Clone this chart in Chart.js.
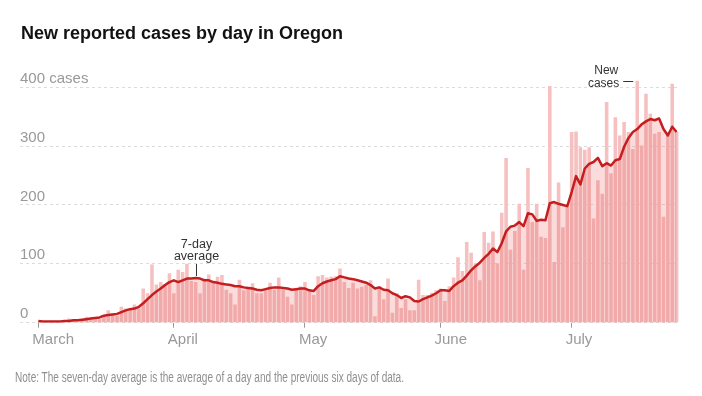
<!DOCTYPE html>
<html>
<head>
<meta charset="utf-8">
<script src="https://cdn.jsdelivr.net/npm/chart.js@4.4.1/dist/chart.umd.min.js"></script>
<style>
  html, body { margin: 0; padding: 0; background: #fff; }
  #wrap  { position: relative; width: 702px; height: 396px; overflow: hidden; }
  #chart { position: absolute; left: 0; top: 0; }
  h1 {
    position: absolute; left: 21px; top: 24px; margin: 0;
    font: bold 18px/18px 'Liberation Sans', Arial, sans-serif; color: #121212;
  }
  #note {
    position: absolute; left: 15px; top: 370px; margin: 0; white-space: nowrap; display: inline-block;
    font: 14px/14px 'Liberation Sans', Arial, sans-serif; color: #8f8f8f;
    transform-origin: 0 0;
  }
</style>
</head>
<body>
<div id="wrap">
  <canvas id="chart" width="702" height="396"></canvas>
  <h1>New reported cases by day in Oregon</h1>
  <span id="note">Note: The seven-day average is the average of a day and the previous six days of data.</span>
</div>
<script>
// day 0 = March 1
const monthTicks  = [0, 31, 61, 92, 122];
const monthLabels = ['March', 'April', 'May', 'June', 'July'];
const yTicks      = [0, 100, 200, 300, 400];
const yTickLabels = ['0', '100', '200', '300', '400 cases'];

// new reported cases per day, Mar 1 .. Jul 25
const newCases = [
  1, 1, 1, 1, 2, 1, 3, 7, 3, 2,
  5, 10, 6, 6, 6, 10, 21, 15, 12, 27,
  24, 24, 31, 24, 58, 50, 99, 65, 69, 65,
  84, 50, 90, 86, 100, 71, 69, 50, 75, 82,
  68, 78, 81, 56, 50, 31, 73, 55, 58, 67,
  50, 50, 55, 68, 56, 77, 56, 44, 31, 59,
  62, 69, 55, 47, 79, 81, 77, 78, 79, 92,
  69, 59, 68, 58, 61, 64, 72, 11, 62, 40,
  75, 17, 50, 25, 40, 21, 21, 73, 47, 47,
  51, 55, 58, 37, 62, 77, 111, 88, 137, 119,
  101, 72, 154, 136, 155, 101, 187, 280, 124, 156,
  202, 90, 263, 171, 202, 146, 144, 402, 103, 238,
  162, 197, 324, 325, 298, 294, 298, 177, 242, 219,
  375, 254, 349, 318, 341, 324, 295, 411, 301, 389,
  355, 321, 324, 180, 324, 406, 324
];

// 7-day average
const avg7 = [
  3, 2, 2, 2, 2, 2, 3, 3, 4, 4,
  5, 6, 7, 8, 9, 12, 13, 14, 15, 18,
  21, 23, 24, 27, 33, 40, 47, 53, 58, 64,
  69, 72, 69, 72, 75, 75, 76, 75, 72, 72,
  69, 68, 66, 65, 64, 62, 62, 60, 59, 58,
  56, 55, 57, 59, 60, 60, 59, 58, 56, 57,
  58, 58, 55, 54, 62, 67, 70, 72, 74, 79,
  77, 75, 74, 72, 70, 68, 64, 58, 60, 56,
  55, 50, 47, 42, 45, 43, 37, 36, 40, 43,
  46, 50, 55, 55, 54, 62, 68, 72, 80, 89,
  96, 102, 110, 117, 126, 120, 135, 155, 163, 165,
  171, 164, 186, 184, 173, 175, 174, 203, 205, 202,
  200, 198, 222, 249, 235, 262, 270, 273, 280, 266,
  271, 267, 276, 278, 299, 314, 324, 329, 337, 342,
  346, 344, 347, 329, 318, 333, 324
];

const avgLabelDay  = 36;   // "7-day average" pointer
const newLabelDay  = 137;  // "New cases" pointer

const barData  = newCases.map((v, i) => ({ x: i, y: v }));
const lineData = avg7.map((v, i) => ({ x: i, y: v }));

// text annotations on the plot
const annotations = {
  id: 'annotations',
  afterDatasetsDraw(chart) {
    const { ctx, scales: { x, y } } = chart;
    ctx.save();
    ctx.fillStyle   = '#333';
    ctx.strokeStyle = '#333';
    ctx.lineWidth   = 1;
    ctx.font = '12.5px "Liberation Sans", Arial, sans-serif';
    ctx.textBaseline = 'middle';

    // 7-day average
    const ax = Math.round(x.getPixelForValue(avgLabelDay)) + 0.5;
    const ay = y.getPixelForValue(avg7[avgLabelDay]);
    ctx.textAlign = 'center';
    ctx.fillText('7-day', ax, ay - 33);
    ctx.fillText('average', ax, ay - 21);
    ctx.beginPath();
    ctx.moveTo(ax, ay - 14);
    ctx.lineTo(ax, ay - 2);
    ctx.stroke();

    // New cases
    ctx.font = '12px "Liberation Sans", Arial, sans-serif';
    const nx = x.getPixelForValue(newLabelDay);
    const ny = Math.round(y.getPixelForValue(newCases[newLabelDay])) + 0.5;
    ctx.textAlign = 'right';
    ctx.fillText('New', nx - 19, ny - 11);
    ctx.fillText('cases', nx - 18, ny + 2);
    ctx.beginPath();
    ctx.moveTo(nx - 14, ny);
    ctx.lineTo(nx - 4, ny);
    ctx.stroke();
    ctx.restore();
  }
};

new Chart(document.getElementById('chart'), {
  type: 'bar',
  data: {
    datasets: [
      {
        type: 'line',
        data: lineData,
        borderColor: '#c41e1e',
        borderWidth: 2.5,
        borderJoinStyle: 'round',
        pointRadius: 0,
        tension: 0,
        fill: 'origin',
        backgroundColor: 'rgba(230, 80, 80, 0.2)',
        order: 0
      },
      {
        type: 'bar',
        data: barData,
        backgroundColor: '#f6c0c0',
        barPercentage: 0.82,
        categoryPercentage: 1,
        order: 1
      }
    ]
  },
  options: {
    responsive: false,
    animation: false,
    layout: { padding: { left: 20, right: 22, top: 75.5, bottom: 0 } },
    plugins: { legend: { display: false }, tooltip: { enabled: false } },
    scales: {
      x: {
        type: 'linear',
        min: -4.19,
        max: 146.78,
        offset: false,
        afterBuildTicks: s => { s.ticks = monthTicks.map(v => ({ value: v })); },
        afterFit: s => { s.height = 396 - 322.7; s.paddingLeft = 0; s.paddingRight = 0; },
        ticks: {
          autoSkip: false,
          maxRotation: 0,
          align: 'start',
          labelOffset: -6,
          padding: 3,
          color: '#999',
          font: { family: 'Liberation Sans', size: 15 },
          callback: v => monthLabels[monthTicks.indexOf(v)]
        },
        grid: { drawOnChartArea: false, drawTicks: true, tickLength: 5, color: '#999', offset: false },
        border: { display: false }
      },
      y: {
        min: 0,
        max: 420,
        afterBuildTicks: s => { s.ticks = yTicks.map(v => ({ value: v })); },
        afterFit: s => { s.paddingTop = 0; s.paddingBottom = 0; },
        ticks: {
          mirror: true,
          padding: 0,
          labelOffset: -8.5,
          color: '#999',
          font: { family: 'Liberation Sans', size: 15 },
          callback: v => yTickLabels[yTicks.indexOf(v)]
        },
        grid: { color: '#dcdcdc', drawTicks: false },
        border: { display: false, dash: [3, 3] }
      }
    }
  },
  plugins: [annotations]
});

const note = document.getElementById('note');
note.style.transform = 'scaleX(' + (389 / note.getBoundingClientRect().width) + ')';
</script>
</body>
</html>
